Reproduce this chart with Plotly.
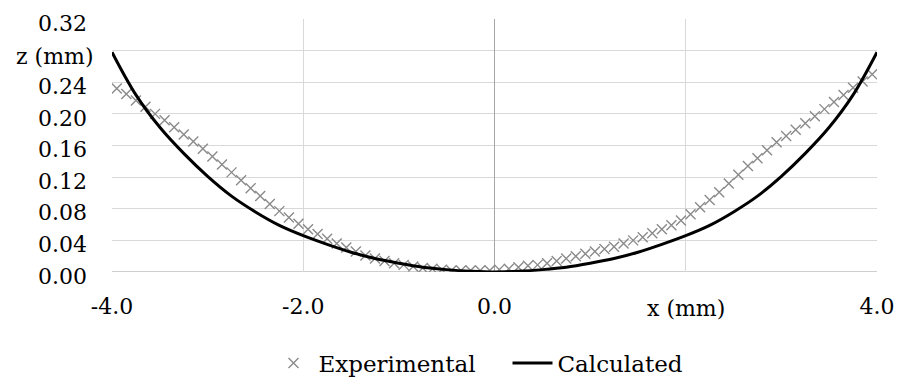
import plotly.graph_objects as go

# Experimental points (x in mm, z in mm)
exp_x = [-3.95, -3.85, -3.75, -3.65, -3.55, -3.45, -3.35, -3.25, -3.15, -3.05,
         -2.95, -2.85, -2.75, -2.65, -2.55, -2.45, -2.35, -2.25, -2.15, -2.05,
         -1.95, -1.85, -1.75, -1.65, -1.55, -1.45, -1.35, -1.25, -1.15, -1.05,
         -0.95, -0.85, -0.75, -0.65, -0.55, -0.45, -0.35, -0.25, -0.15, -0.05,
         0.05, 0.15, 0.25, 0.35, 0.45, 0.55, 0.65, 0.75, 0.85, 0.95,
         1.05, 1.15, 1.25, 1.35, 1.45, 1.55, 1.65, 1.75, 1.85, 1.95,
         2.05, 2.15, 2.25, 2.35, 2.45, 2.55, 2.65, 2.75, 2.85, 2.95,
         3.05, 3.15, 3.25, 3.35, 3.45, 3.55, 3.65, 3.75, 3.85, 3.95]
exp_z = [0.232, 0.225, 0.217, 0.209, 0.200, 0.192, 0.183, 0.174, 0.165, 0.156,
         0.146, 0.136, 0.126, 0.116, 0.106, 0.096, 0.086, 0.077, 0.069, 0.061,
         0.054, 0.048, 0.042, 0.036, 0.031, 0.026, 0.021, 0.017, 0.014, 0.011,
         0.009, 0.007, 0.005, 0.004, 0.003, 0.002, 0.002, 0.002, 0.002, 0.002,
         0.003, 0.004, 0.006, 0.008, 0.009, 0.011, 0.014, 0.017, 0.020, 0.023,
         0.026, 0.029, 0.032, 0.036, 0.040, 0.044, 0.049, 0.054, 0.059, 0.065,
         0.073, 0.082, 0.091, 0.101, 0.112, 0.123, 0.134, 0.144, 0.154, 0.164,
         0.172, 0.180, 0.188, 0.197, 0.206, 0.215, 0.224, 0.233, 0.241, 0.250]

# Calculated profile
calc_x = [-4.0, -3.75, -3.5, -3.25, -3.0, -2.75, -2.5, -2.25, -2.0, -1.75, -1.5,
          -1.25, -1.0, -0.75, -0.5, -0.25, 0.0, 0.25, 0.5, 0.75, 1.0, 1.25,
          1.5, 1.75, 2.0, 2.25, 2.5, 2.75, 3.0, 3.25, 3.5, 3.75, 4.0]
calc_z = [0.278, 0.224, 0.183, 0.150, 0.121, 0.096, 0.076, 0.059, 0.046, 0.035, 0.025,
          0.017, 0.011, 0.006, 0.003, 0.001, 0.000, 0.001, 0.003, 0.006, 0.011, 0.017,
          0.025, 0.035, 0.046, 0.059, 0.076, 0.096, 0.121, 0.150, 0.183, 0.224, 0.278]

x_tickvals = [-4.0, -2.0, 0.0, 2.0, 4.0]
x_ticktext = ["-4.0", "-2.0", "0.0", "", "4.0"]
y_tickvals = [0.00, 0.04, 0.08, 0.12, 0.16, 0.20, 0.24, 0.28, 0.32]
y_ticktext = ["0.00", "0.04", "0.08", "0.12", "0.16", "0.20", "0.24", "", "0.32"]
x_title = "x (mm)"
y_title = "z (mm)"

FONT = "DejaVu Serif"
GRID = "#d9d9d9"

fig = go.Figure()
fig.add_trace(go.Scatter(
    x=exp_x, y=exp_z, mode="markers", name="Experimental",
    marker=dict(symbol="x-thin-open", size=10, color="#8a8a8a",
                line=dict(color="#8a8a8a", width=1.4)),
))
fig.add_trace(go.Scatter(
    x=calc_x, y=calc_z, mode="lines", name="Calculated",
    line=dict(color="black", width=3, shape="spline", smoothing=1.0),
))

fig.update_layout(
    width=899, height=381,
    margin=dict(l=112, r=22, t=19, b=109, autoexpand=False),
    paper_bgcolor="white", plot_bgcolor="white",
    font=dict(family=FONT, size=22, color="black"),
    showlegend=True,
    legend=dict(orientation="h", x=0.517, xanchor="center", y=-0.36, yanchor="middle",
                font=dict(family=FONT, size=23, color="black"),
                itemwidth=40, entrywidth=184, entrywidthmode="pixels",
                traceorder="normal"),
    xaxis=dict(range=[-4, 4], tickvals=x_tickvals, ticktext=x_ticktext, showgrid=True,
               gridcolor=GRID, gridwidth=1.3, zeroline=True, zerolinecolor="#a6a6a6",
               zerolinewidth=1.3, showline=False, ticks="", ticklabelstandoff=19,
               fixedrange=True),
    yaxis=dict(range=[0, 0.32], tickvals=y_tickvals, ticktext=y_ticktext, showgrid=True,
               gridcolor=GRID, gridwidth=1.3, zeroline=False, showline=False, ticks="",
               ticklabelstandoff=24, ticklabelshift=4, fixedrange=True),
)

fig.add_shape(type="line", xref="paper", yref="y", x0=0, x1=1, y0=0, y1=0,
              line=dict(color="#bfbfbf", width=1.3), layer="below")

fig.add_annotation(text=y_title, xref="paper", yref="y", x=-0.022, y=0.28,
                   xanchor="right", yanchor="middle", yshift=-6, showarrow=False,
                   font=dict(family=FONT, size=22, color="black"))
fig.add_annotation(text=x_title, xref="x", yref="paper", x=2.0, y=0,
                   xanchor="center", yanchor="top", yshift=-22, showarrow=False,
                   font=dict(family=FONT, size=22, color="black"))

fig.write_html("out.html")
